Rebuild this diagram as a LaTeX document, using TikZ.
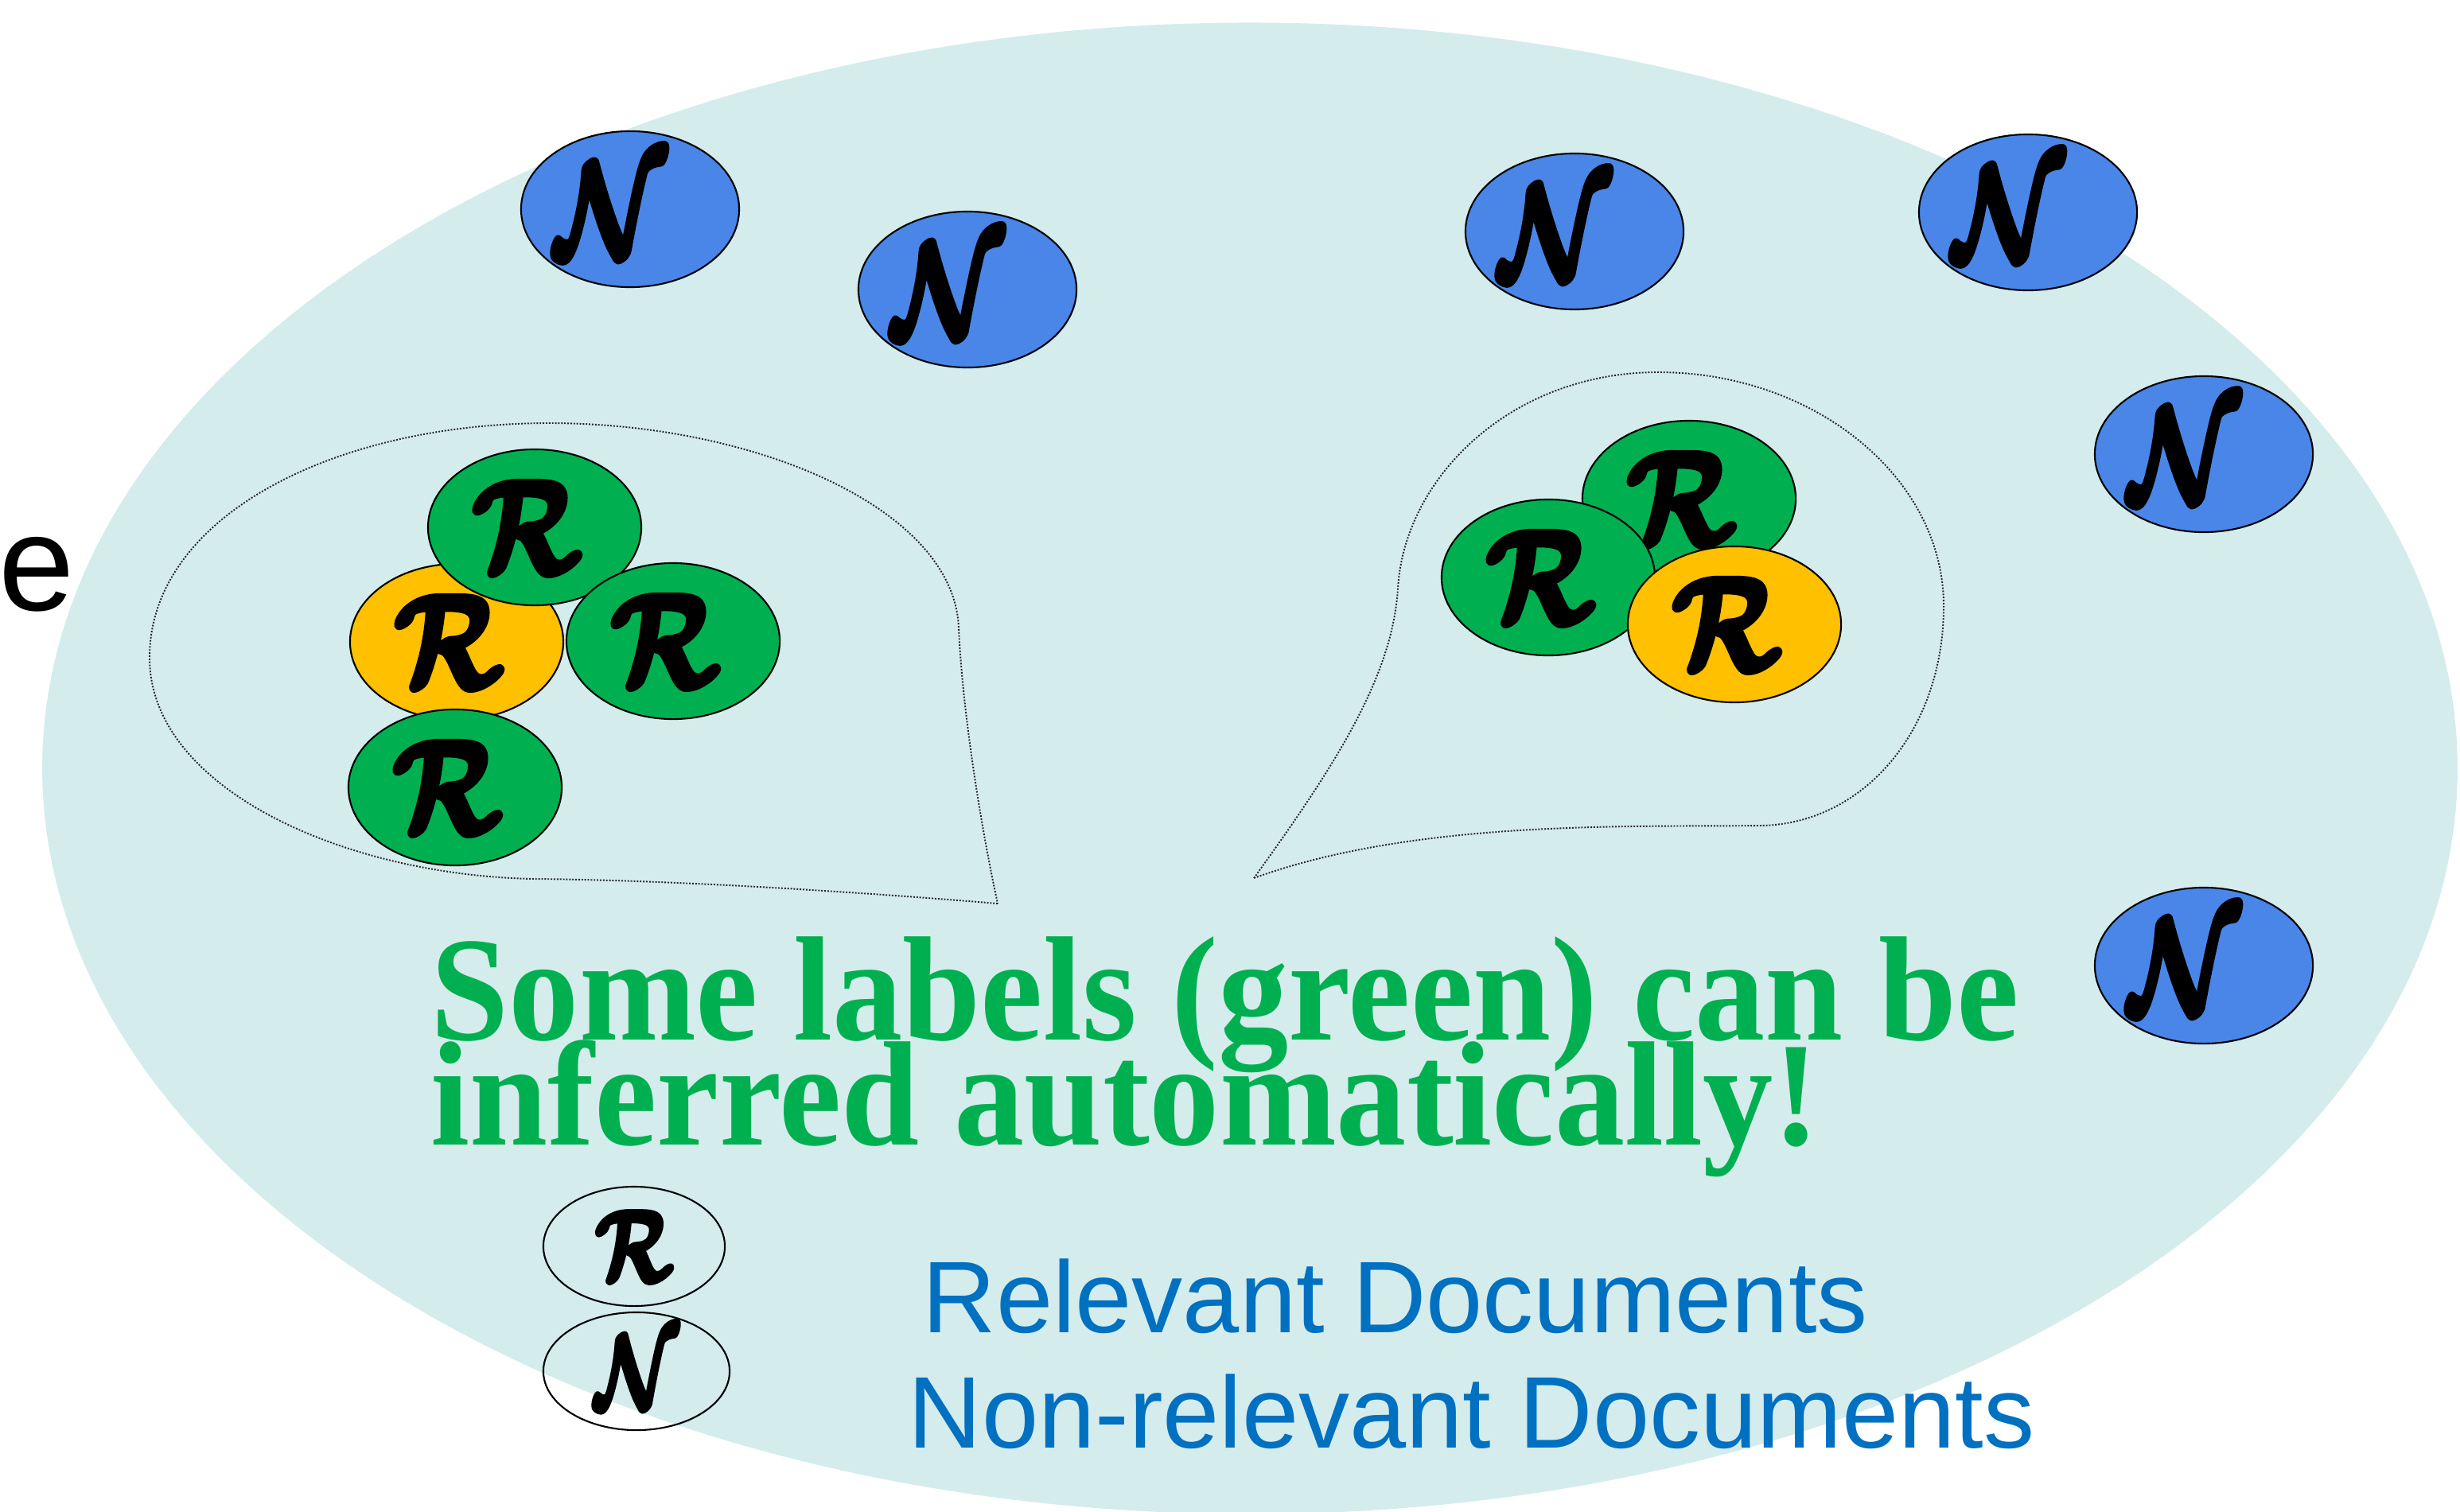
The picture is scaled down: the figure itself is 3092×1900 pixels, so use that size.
\documentclass[tikz,border=0pt]{standalone}
\usepackage{fontspec}
\usepackage{amsmath}
\usepackage{bm}
\usepackage{graphicx}
\usetikzlibrary{shapes.geometric}
\newfontfamily\lsans{Liberation Sans}
\newfontfamily\lserif{Liberation Serif}
\definecolor{bgcyan}{RGB}{213,236,236}
\definecolor{nblue}{RGB}{74,134,232}
\definecolor{rgreen}{RGB}{0,176,80}
\definecolor{ryellow}{RGB}{255,192,0}
\definecolor{tgreen}{RGB}{0,176,80}
\definecolor{lblue}{RGB}{0,112,192}
% heavier glyph: fill + stroke text rendering mode
\newcommand\thk[1]{\special{pdf:literal direct 2 Tr 0.55 w 1 j}#1\special{pdf:literal direct 0 Tr}}
\newcommand\glN{\hbox to 0pt{\hss\color{black}\scalebox{3.6}[4.8]{\thk{$\bm{\mathcal{N}}$}}\hss\kern0.5cm}}
\newcommand\glR{\hbox to 0pt{\hss\color{black}\scalebox{3.9}[4.7]{\thk{$\bm{\mathcal{R}}$}}\hss\kern0.2cm}}
\newcommand\glNs{\hbox to 0pt{\hss\color{black}\scalebox{2.7}[3.7]{\thk{$\bm{\mathcal{N}}$}}\hss}}
\newcommand\glRs{\hbox to 0pt{\hss\color{black}\scalebox{2.8}[3.6]{\thk{$\bm{\mathcal{R}}$}}\hss}}
\tikzset{
  docN/.style={ellipse, draw=black, line width=0.6pt, fill=nblue, minimum width=2.74cm, minimum height=1.96cm, inner sep=0pt},
  docR/.style={ellipse, draw=black, line width=0.6pt, minimum width=2.68cm, minimum height=1.96cm, inner sep=0pt},
  relg/.style={docR, fill=rgreen},
  rely/.style={docR, fill=ryellow},
  legR/.style={ellipse, draw=black, line width=0.6pt, minimum width=2.28cm, minimum height=1.50cm, inner sep=0pt},
  legN/.style={ellipse, draw=black, line width=0.6pt, minimum width=2.34cm, minimum height=1.48cm, inner sep=0pt},
  bubble/.style={draw=black!85, line width=0.55pt, dash pattern=on 0.55pt off 0.55pt},
  bigtext/.style={font=\lserif\bfseries\fontsize{53.2}{60}\selectfont, text=tgreen, anchor=base west, inner sep=0pt},
  legtext/.style={font=\lsans\fontsize{36.4}{40}\selectfont, text=lblue, anchor=base west, inner sep=0pt},
}
\begin{document}
\begin{tikzpicture}[x=0.01cm, y=-0.01cm]
\useasboundingbox (0,0) rectangle (3092,1900);
% universe
\node[ellipse, fill=bgcyan, minimum width=30.34cm, minimum height=18.74cm, inner sep=0pt] (univ) at (1571,966) {};
% left text fragment
\node[font=\lsans\fontsize{48.7}{50}\selectfont, anchor=base west, inner sep=0pt] (frag) at (-2,767) {e};
% bubbles
\coordinate (tipL) at (1254,1136);
\coordinate (tipR) at (1576,1104);
\draw[bubble] (tipL) .. controls (1000,1115) and (800,1106) .. (670,1105)
  .. controls (430,1100) and (188,990) .. (188,827)
  .. controls (188,650) and (420,532) .. (690,532)
  .. controls (950,532) and (1200,640) .. (1205,790)
  .. controls (1210,900) and (1235,1050) .. (tipL);
\draw[bubble] (tipR) .. controls (1680,960) and (1750,850) .. (1757,740)
  .. controls (1765,600) and (1900,468) .. (2084,468)
  .. controls (2280,468) and (2443,600) .. (2443,762)
  .. controls (2443,920) and (2340,1038) .. (2210,1038)
  .. controls (2050,1040) and (1780,1030) .. (tipR);
% non-relevant documents
\node[docN] (n1) at (792,263) {\glN};
\node[docN] (n2) at (1216,364) {\glN};
\node[docN] (n3) at (1979,291) {\glN};
\node[docN] (n4) at (2549,267) {\glN};
\node[docN] (n5) at (2770,571) {\glN};
\node[docN] (n6) at (2770,1214) {\glN};
% left cluster
\node[rely] (ry1) at (574,807) {\glR};
\node[relg] (rg1) at (672,663) {\glR};
\node[relg] (rg2) at (846,806) {\glR};
\node[relg] (rg3) at (572,990) {\glR};
% right cluster
\node[relg] (rg4) at (2123,627) {\glR};
\node[relg] (rg5) at (1946,726) {\glR};
\node[rely] (ry2) at (2180,785) {\glR};
% main text
\node[bigtext] (line1) at (541,1307) {\scalebox{0.943}[1]{Some labels (green) can be}};
\node[bigtext] (line2) at (541,1439) {\scalebox{0.943}[1]{inferred automatically!}};
% legend
\node[legR] (lr) at (797,1567) {\glRs};
\node[legN] (ln) at (800,1724) {\glNs};
\node[legtext] (lrt) at (1159,1675) {Relevant Documents};
\node[legtext] (lnt) at (1141,1820) {Non-relevant Documents};
\end{tikzpicture}
\end{document}
